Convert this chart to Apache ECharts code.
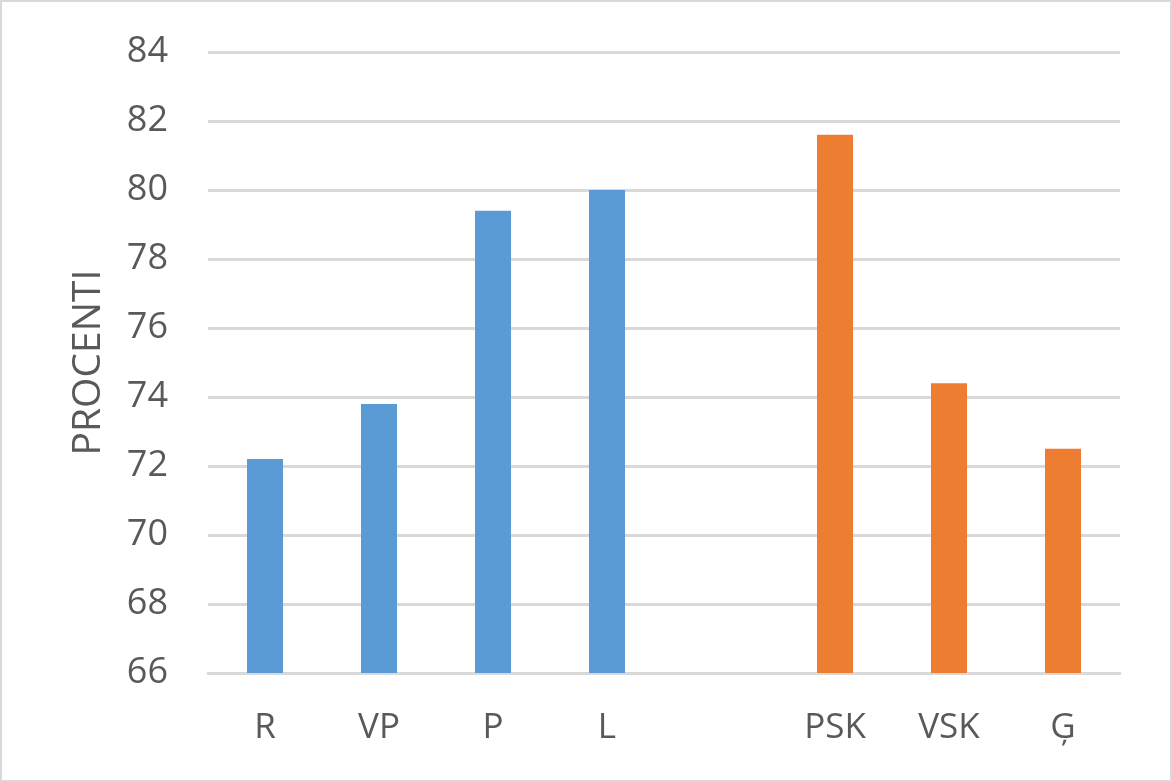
<!DOCTYPE html>
<html>
<head>
<meta charset="utf-8">
<script src="https://cdn.jsdelivr.net/npm/echarts@6/dist/echarts.min.js"></script>
<style>
html,body{margin:0;padding:0;background:#fff;}
#chart{width:1172px;height:782px;}
</style>
</head>
<body>
<div id="chart"></div>
<script>
const categories = ['R', 'VP', 'P', 'L', '', 'PSK', 'VSK', 'Ģ'];
const blueValues = [72.2, 73.8, 79.4, 80.0, '-', '-', '-', '-'];
const orangeValues = ['-', '-', '-', '-', '-', 81.6, 74.4, 72.5];
const yTicks = { min: 66, max: 84, interval: 2 };
const yName = 'PROCENTI';

const chart = echarts.init(document.getElementById('chart'));
chart.setOption({
  backgroundColor: '#ffffff',
  animation: false,
  graphic: [{
    type: 'rect',
    shape: { x: 1, y: 1, width: 1170, height: 780 },
    style: { fill: 'none', stroke: '#d9d9d9', lineWidth: 2 }
  }],
  grid: { left: 208, right: 52, top: 52, bottom: 109, containLabel: false },
  xAxis: {
    type: 'category',
    data: categories,
    axisLine: { show: true, lineStyle: { color: '#d9d9d9', width: 3 } },
    axisTick: { show: false },
    axisLabel: { color: '#595959', fontSize: 35, fontFamily: 'Open Sans', margin: 38 }
  },
  yAxis: {
    type: 'value',
    min: yTicks.min,
    max: yTicks.max,
    interval: yTicks.interval,
    name: yName,
    nameLocation: 'middle',
    nameGap: 100,
    nameRotate: 90,
    nameTextStyle: { color: '#595959', fontSize: 39, fontFamily: 'Open Sans' },
    axisLine: { show: false },
    axisTick: { show: false },
    splitLine: { lineStyle: { color: '#d9d9d9', width: 3 } },
    axisLabel: { color: '#595959', fontSize: 36, fontFamily: 'Open Sans', margin: 40 }
  },
  series: [
    {
      type: 'bar',
      data: blueValues,
      barWidth: 36,
      barGap: '-100%',
      itemStyle: { color: '#5b9bd5' }
    },
    {
      type: 'bar',
      data: orangeValues,
      barWidth: 36,
      barGap: '-100%',
      itemStyle: { color: '#ed7d31' }
    }
  ]
});
</script>
</body>
</html>
